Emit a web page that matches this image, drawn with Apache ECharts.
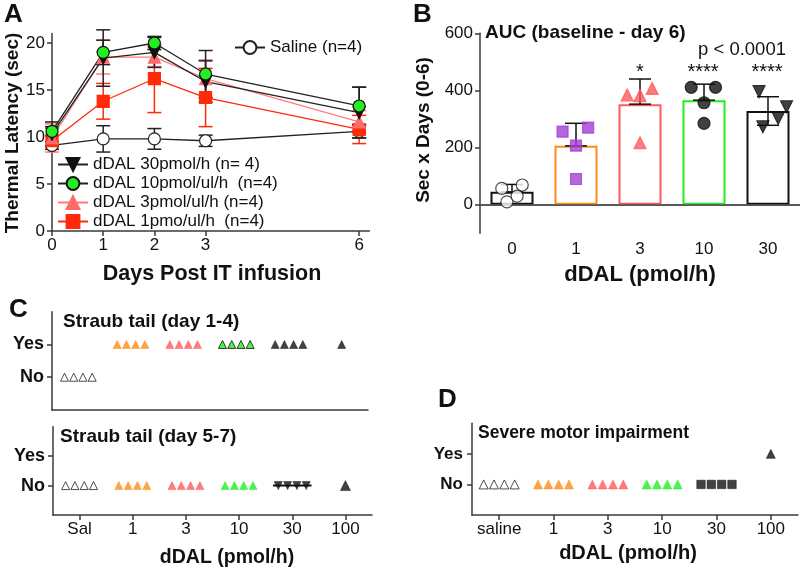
<!DOCTYPE html>
<html>
<head>
<meta charset="utf-8">
<script src="https://cdn.jsdelivr.net/npm/echarts@6/dist/echarts.min.js"></script>
<style>
html, body { margin: 0; padding: 0; background: #fff; }
#chart { width: 800px; height: 571px; }
</style>
</head>
<body>
<div id="chart"></div>
<script>
// ---- panel A: thermal latency over time ----
var days = [0, 1, 2, 3, 6];
var dayTicks = [0, 1, 2, 3, 6];
var latTicks = [0, 5, 10, 15, 20];
var saline = [9.1, 9.8, 9.8, 9.6, 10.6];
var salineErr = [0.4, 1.4, 1.1, 0.6, 0.7];
var dal30 = [10.3, 18.4, 19.0, 15.9, 12.6];
var dal30Err = [1.3, 3.0, 1.6, 2.2, 2.7];
var dal10 = [10.6, 19.0, 20.0, 16.7, 13.3];
var dal10Err = [0.5, 1.3, 0.7, 2.5, 2.0];
var dal3 = [9.9, 18.5, 18.5, 16.2, 11.6];
var dal3Err = [1.5, 1.8, 1.0, 2.0, 1.2];
var dal1 = [9.6, 13.8, 16.2, 14.2, 10.8];
var dal1Err = [0.6, 1.9, 3.6, 3.1, 1.5];

// ---- panel B: AUC ----
var aucDoses = ['0', '1', '3', '10', '30'];
var aucTicks = [0, 200, 400, 600];
var aucMean = [45, 206, 352, 366, 328];
var aucSd = [26, 79, 88, 56, 50];
var auc0 = [57, 69, 10, 30];
var auc1 = [256, 270, 207, 90];
var auc3 = [384, 382, 407, 217];
var auc10 = [411, 411, 357, 285];
var auc30 = [396, 343, 302, 273];
var aucStars = ['', '', '*', '****', '****'];

// ---- panels C / D: yes / no per animal ----
var doseGroups = ['Sal', '1', '3', '10', '30', '100'];
var doseGroupsD = ['saline', '1', '3', '10', '30', '100'];
var groupN = [4, 4, 4, 4, 4, 1];
var straubDay14 = [0, 1, 1, 1, 1, 1];   // 1 = Yes
var straubDay57 = [0, 0, 0, 0, 0, 0];
var motorImpair = [0, 0, 0, 0, 0, 1];

var FONT = 'Liberation Sans, Arial, sans-serif';
var AX = '#3a3a3a';
var ORANGE = '#ff8c1a', SALMON = '#ff5a5a', GREEN = '#22ee22', RED = '#ff2a0a', PURPLE = '#a53fd6';

function pairs(xs, ys) { return xs.map(function (x, i) { return [x, ys[i]]; }); }
function errData(xs, ys, es) { return xs.map(function (x, i) { return [x, ys[i] - es[i], ys[i] + es[i]]; }); }

function errRender(color, cap) {
  return function (params, api) {
    var x = api.value(0), lo = api.value(1), hi = api.value(2);
    var p0 = api.coord([x, lo]), p1 = api.coord([x, hi]);
    var st = { stroke: color, lineWidth: 1.5 };
    return { type: 'group', children: [
      { type: 'line', shape: { x1: p0[0], y1: p0[1], x2: p1[0], y2: p1[1] }, style: st },
      { type: 'line', shape: { x1: p0[0] - cap, y1: p0[1], x2: p0[0] + cap, y2: p0[1] }, style: st },
      { type: 'line', shape: { x1: p1[0] - cap, y1: p1[1], x2: p1[0] + cap, y2: p1[1] }, style: st }
    ] };
  };
}

function errSeries(xs, ys, es, color) {
  return { type: 'custom', xAxisIndex: 0, yAxisIndex: 0, z: 1, silent: true,
    renderItem: errRender(color, 7), data: errData(xs, ys, es), encode: { x: 0, y: [1, 2] } };
}

function lineSeries(name, ys, color, lineColor, symbol, rot, border) {
  return { type: 'line', name: name, xAxisIndex: 0, yAxisIndex: 0, z: 3,
    data: pairs(days, ys), symbol: symbol, symbolSize: 12, symbolRotate: rot || 0,
    lineStyle: { color: lineColor, width: 1.3 },
    itemStyle: { color: color, borderColor: border || color, borderWidth: 1.2 } };
}

// dots for C / D panels (grid g uses xAxis g+1, yAxis g)
function dotSeries(gridIdx, outcomes, styles, spacing) {
  var out = [];
  doseGroups.forEach(function (g, gi) {
    var n = groupN[gi], pts = [];
    for (var k = 0; k < n; k++) {
      pts.push([gi + 0.5 + (k - (n - 1) / 2) * spacing, outcomes[gi] ? 2 : 1]);
    }
    var s = styles[gi];
    if (s.bar) {
      out.push({ type: 'line', xAxisIndex: gridIdx + 1, yAxisIndex: gridIdx, symbol: 'none', silent: true,
        data: [[pts[0][0] - 0.1, pts[0][1]], [pts[n - 1][0] + 0.1, pts[0][1]]],
        lineStyle: { color: '#111', width: 2 } });
    }
    out.push({ type: 'scatter', xAxisIndex: gridIdx + 1, yAxisIndex: gridIdx, data: pts, z: 4,
      symbol: s.symbol || 'triangle', symbolRotate: s.rot || 0, symbolSize: s.size,
      itemStyle: { color: s.fill, borderColor: s.border || s.fill, borderWidth: s.bw || 0.6 } });
  });
  return out;
}

var openTri = { fill: '#fff', border: '#222', bw: 1, size: [8, 8] };
var stylesC1 = [openTri,
  { fill: ORANGE, size: [8, 8] }, { fill: SALMON, size: [8, 8] },
  { fill: GREEN, border: '#111', bw: 1, size: [8, 8] },
  { fill: '#111', size: [8, 8] }, { fill: '#111', size: [8, 8] }];
var stylesC2 = [openTri,
  { fill: ORANGE, size: [8, 8] }, { fill: SALMON, size: [8, 8] }, { fill: GREEN, size: [8, 8] },
  { fill: '#111', size: [8, 8], rot: 180, bar: true }, { fill: '#111', size: [10, 10] }];
var stylesD = [{ fill: '#fff', border: '#222', bw: 1, size: [9, 9] },
  { fill: ORANGE, size: [9, 9] }, { fill: SALMON, size: [9, 9] }, { fill: GREEN, size: [9, 9] },
  { fill: '#111', symbol: 'rect', size: [8.5, 8.5] }, { fill: '#111', size: [9, 9] }];

// B scatter jitter (layout only)
var jitter = [[-0.16, 0.16, -0.08, 0.08], [-0.21, 0.19, 0, 0], [-0.2, 0, 0.19, 0],
  [-0.2, 0.18, 0, 0], [-0.14, 0.29, 0.16, -0.08]];
function aucPts(gi, vals) { return vals.map(function (v, k) { return [gi + 0.5 + jitter[gi][k], v]; }); }
function aucScatter(gi, vals, symbol, fill, border, rot, size) {
  return { type: 'scatter', xAxisIndex: 2, yAxisIndex: 1, z: 5, data: aucPts(gi, vals),
    symbol: symbol, symbolRotate: rot || 0, symbolSize: size || 12,
    itemStyle: { color: fill, borderColor: border, borderWidth: 1.2 } };
}

var barColors = ['#111', ORANGE, SALMON, GREEN, '#111'];

function axisBase(extra) {
  var a = {
    axisLine: { show: true, lineStyle: { color: AX, width: 1.5 } },
    axisTick: { show: true, length: 5, lineStyle: { color: AX, width: 1.5 } },
    axisLabel: { color: '#111', fontSize: 17, fontFamily: FONT },
    splitLine: { show: false }
  };
  for (var k in extra) {
    if (typeof extra[k] === 'object' && !Array.isArray(extra[k]) && a[k]) {
      a[k] = Object.assign({}, a[k], extra[k]);
    } else a[k] = extra[k];
  }
  return a;
}

function txt(x, y, text, size, opts) {
  opts = opts || {};
  return { type: 'text', x: x, y: y, rotation: opts.rot || 0, silent: true,
    style: { text: text, fill: '#111', font: (opts.normal ? '' : 'bold ') + size + 'px ' + FONT,
      textAlign: opts.align || 'center', textVerticalAlign: 'middle' } };
}

var chart = echarts.init(document.getElementById('chart'));
var option = {
  animation: false,
  backgroundColor: '#fff',
  textStyle: { fontFamily: FONT },
  grid: [
    { left: 52, top: 33.6, width: 317.4, height: 197.4 },
    { left: 480, top: 33.3, width: 320, height: 200 },
    { left: 52, top: 311.7, width: 316, height: 98.3 },
    { left: 53, top: 426.7, width: 319, height: 88.3 },
    { left: 472, top: 423.3, width: 326, height: 91.7 }
  ],
  xAxis: [
    axisBase({ type: 'value', gridIndex: 0, min: 0, max: 6.2,
      axisTick: { customValues: dayTicks }, axisLabel: { customValues: dayTicks, margin: 6 } }),
    axisBase({ type: 'category', gridIndex: 1, data: aucDoses,
      axisTick: { show: false }, axisLabel: { margin: 8 } }),
    { type: 'value', gridIndex: 1, min: 0, max: 5, show: false },
    axisBase({ type: 'value', gridIndex: 2, min: 0, max: 6,
      axisTick: { show: false }, axisLabel: { show: false } }),
    axisBase({ type: 'value', gridIndex: 3, min: 0, max: 6,
      axisTick: { customValues: [0.5, 1.5, 2.5, 3.5, 4.5, 5.5] },
      axisLabel: { customValues: [0.5, 1.5, 2.5, 3.5, 4.5, 5.5], margin: 6,
        formatter: function (v) { return doseGroups[Math.round(v - 0.5)]; } } }),
    axisBase({ type: 'value', gridIndex: 4, min: 0, max: 6,
      axisTick: { customValues: [0.5, 1.5, 2.5, 3.5, 4.5, 5.5] },
      axisLabel: { customValues: [0.5, 1.5, 2.5, 3.5, 4.5, 5.5], margin: 6,
        formatter: function (v) { return doseGroupsD[Math.round(v - 0.5)]; } } })
  ],
  yAxis: [
    axisBase({ type: 'value', gridIndex: 0, min: 0, max: 21,
      axisTick: { customValues: latTicks }, axisLabel: { customValues: latTicks, margin: 7 } }),
    axisBase({ type: 'value', gridIndex: 1, min: -100, max: 600,
      axisTick: { customValues: aucTicks }, axisLabel: { customValues: aucTicks, margin: 7 } }),
    axisBase({ type: 'value', gridIndex: 2, min: 0, max: 3,
      axisTick: { customValues: [1, 2] },
      axisLabel: { customValues: [1, 2], margin: 8, fontWeight: 'bold', fontSize: 18,
        formatter: function (v) { return v === 2 ? 'Yes' : 'No'; } } }),
    axisBase({ type: 'value', gridIndex: 3, min: 0, max: 3,
      axisTick: { customValues: [1, 2] },
      axisLabel: { customValues: [1, 2], margin: 8, fontWeight: 'bold', fontSize: 18,
        formatter: function (v) { return v === 2 ? 'Yes' : 'No'; } } }),
    axisBase({ type: 'value', gridIndex: 4, min: 0, max: 3,
      axisTick: { customValues: [1, 2] },
      axisLabel: { customValues: [1, 2], margin: 9, fontWeight: 'bold', fontSize: 17,
        formatter: function (v) { return v === 2 ? 'Yes' : 'No'; } } })
  ],
  legend: [
    { left: 229, top: 34, itemWidth: 30, itemHeight: 16, itemGap: 2,
      textStyle: { fontSize: 17, color: '#111', fontFamily: FONT },
      data: ['Saline (n=4)'] },
    { left: 52, top: 151, orient: 'vertical', itemWidth: 30, itemHeight: 16, itemGap: 2,
      textStyle: { fontSize: 17, color: '#111', fontFamily: FONT },
      data: ['dDAL 30pmol/h (n= 4)', 'dDAL 10pmol/ul/h  (n=4)', 'dDAL 3pmol/ul/h (n=4)', 'dDAL 1pmo/ul/h  (n=4)'] }
  ],
  series: [
    errSeries(days, saline, salineErr, '#222'),
    errSeries(days, dal1, dal1Err, RED),
    errSeries(days, dal3, dal3Err, '#ff7b7b'),
    errSeries(days, dal30, dal30Err, '#222'),
    errSeries(days, dal10, dal10Err, '#222'),
    lineSeries('Saline (n=4)', saline, '#fff', '#222', 'circle', 0, '#222'),
    lineSeries('dDAL 1pmo/ul/h  (n=4)', dal1, RED, RED, 'rect'),
    lineSeries('dDAL 3pmol/ul/h (n=4)', dal3, '#ff6b6b', '#ff7b7b', 'triangle'),
    lineSeries('dDAL 30pmol/h (n= 4)', dal30, '#111', '#222', 'triangle', 180),
    lineSeries('dDAL 10pmol/ul/h  (n=4)', dal10, GREEN, '#222', 'circle', 0, '#111'),

    { type: 'bar', xAxisIndex: 1, yAxisIndex: 1, barWidth: 43, z: 2,
      data: aucMean.map(function (v, i) {
        return { value: v, itemStyle: { color: '#fff', borderColor: barColors[i], borderWidth: 2 } };
      }),
      markLine: { silent: true, symbol: 'none', label: { show: false },
        lineStyle: { color: '#555', width: 1.5, type: 'solid' }, data: [{ yAxis: 0 }] } },
    { type: 'custom', xAxisIndex: 2, yAxisIndex: 1, z: 3, silent: true,
      data: aucMean.map(function (v, i) { return [i + 0.5, i === 4 ? v - aucSd[i] : v, v + aucSd[i]]; }),
      encode: { x: 0, y: [1, 2] },
      renderItem: errRender('#111', 11) },
    aucScatter(0, auc0, 'circle', '#fff', '#222'),
    aucScatter(1, auc1, 'rect', PURPLE, PURPLE, 0, 11),
    aucScatter(2, auc3, 'triangle', SALMON, SALMON),
    aucScatter(3, auc10, 'circle', '#111', '#111'),
    aucScatter(4, auc30, 'triangle', '#111', '#111', 180)
  ].concat(dotSeries(2, straubDay14, stylesC1, 0.175))
   .concat(dotSeries(3, straubDay57, stylesC2, 0.175))
   .concat(dotSeries(4, motorImpair, stylesD, 0.19)),
  graphic: [
    txt(4, 15, 'A', 26, { align: 'left' }),
    txt(413, 15, 'B', 26, { align: 'left' }),
    txt(9, 310, 'C', 26, { align: 'left' }),
    txt(438, 400, 'D', 26, { align: 'left' }),
    txt(13, 133, 'Thermal Latency (sec)', 19, { rot: Math.PI / 2 }),
    txt(212, 274, 'Days Post IT infusion', 21.5),
    txt(485, 33, 'AUC (baseline - day 6)', 19, { align: 'left' }),
    txt(424, 130, 'Sec x Days (0-6)', 19, { rot: Math.PI / 2 }),
    txt(640, 275, 'dDAL (pmol/h)', 22),
    txt(742, 50, 'p < 0.0001', 18.5, { normal: true }),
    txt(640, 72, aucStars[2], 20, { normal: true }),
    txt(703, 72, aucStars[3], 20, { normal: true }),
    txt(767, 72, aucStars[4], 20, { normal: true }),
    txt(63, 322, 'Straub tail (day 1-4)', 19, { align: 'left' }),
    txt(60, 437, 'Straub tail (day 5-7)', 19, { align: 'left' }),
    txt(227, 558, 'dDAL (pmol/h)', 19.5),
    txt(478, 433, 'Severe motor impairment', 17.5, { align: 'left' }),
    txt(628, 553, 'dDAL (pmol/h)', 20)
  ]
};
chart.setOption(option);
</script>
</body>
</html>
